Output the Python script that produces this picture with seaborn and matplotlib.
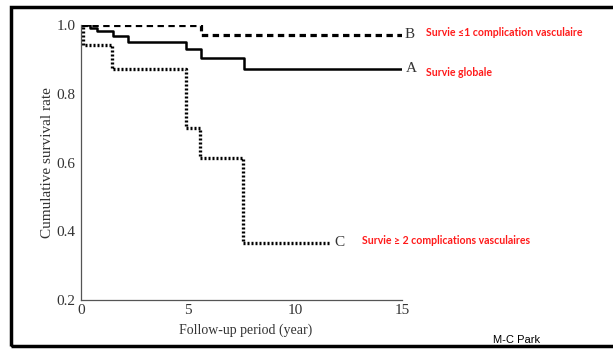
import matplotlib
matplotlib.use("Agg")
import matplotlib.pyplot as plt
import seaborn as sns
import pandas as pd
from matplotlib.patches import Rectangle

# Data (Kaplan-Meier style step curves)
time_A = [0, 0.4, 0.75, 1.5, 2.2, 4.9, 5.6, 7.6, 15]
surv_A = [1.0, 0.99, 0.982, 0.968, 0.952, 0.93, 0.904, 0.872, 0.872]
time_B = [0, 5.6, 15]
surv_B = [1.0, 0.971, 0.971]
time_C = [0, 0.1, 1.45, 4.9, 5.55, 7.55, 11.7]
surv_C = [1.0, 0.943, 0.872, 0.70, 0.614, 0.367, 0.367]

curve_letters = ["A", "B", "C"]
curve_labels = ["Survie globale", "Survie \u22641 complication vasculaire",
                "Survie \u2265 2 complications vasculaires"]
x_ticks = [0, 5, 10, 15]
y_ticks = [0.2, 0.4, 0.6, 0.8, 1.0]

df = pd.concat([
    pd.DataFrame({"t": time_A, "s": surv_A, "g": "A"}),
    pd.DataFrame({"t": time_B, "s": surv_B, "g": "B"}),
    pd.DataFrame({"t": time_C, "s": surv_C, "g": "C"}),
])

sns.set_style("white")
plt.rcParams["font.family"] = ["Liberation Serif", "DejaVu Serif"]

fig = plt.figure(figsize=(6.13, 3.49), dpi=100)
ax = fig.add_axes([81/613, 49/349, 321/613, 275/349])

styles = {"A": dict(ls="-", lw=1.8), "B": dict(ls=(0, (2.0, 1.4)), lw=2.3),
          "C": dict(ls=(0, (0.6, 0.6)), lw=2.4)}
for g in curve_letters:
    sub = df[df.g == g]
    sns.lineplot(x=sub.t.values, y=sub.s.values, drawstyle="steps-post",
                 color="black", ax=ax, **styles[g])

ax.set_xlim(0, 15)
ax.set_ylim(0.2, 1.0)
ax.set_xticks(x_ticks)
ax.set_yticks(y_ticks)
ax.set_xticklabels([str(v) for v in x_ticks])
ax.set_yticklabels([f"{v:.1f}" for v in y_ticks])
for s in ["top", "right"]:
    ax.spines[s].set_visible(False)
for s in ["left", "bottom"]:
    ax.spines[s].set_color("#555555")
    ax.spines[s].set_linewidth(0.9)
ax.tick_params(axis="y", direction="out", length=3, width=0.8, color="#555555",
               labelsize=11, labelcolor="#333333", pad=1)
ax.tick_params(axis="x", direction="in", length=3, width=0.6, color="#999999",
               labelsize=11, labelcolor="#333333", pad=3)
ax.set_xlabel("Follow-up period (year)", fontsize=10, color="#333333", labelpad=9)
ax.set_ylabel("Cumulative survival rate", fontsize=11, color="#333333", labelpad=2)
ax.xaxis.set_label_coords(0.513, -0.085)

# curve end letters
ax.text(15.1, surv_B[-1], "B", fontsize=11, va="center", ha="left", color="#333333")
ax.text(15.2, surv_A[-1], "A", fontsize=11, va="center", ha="left", color="#333333")
ax.text(time_C[-1] + 0.15, surv_C[-1], "C", fontsize=11, va="center", ha="left", color="#333333")

red_kw = dict(fontsize=7.6, color="#ff1a1a", fontweight="bold",
              family=["Lato", "DejaVu Sans"], va="center", ha="left")
fig.text(426/613, 1 - 33/349, curve_labels[1], **red_kw)
fig.text(426/613, 1 - 72/349, curve_labels[0], **red_kw)
fig.text(362/613, 1 - 240/349, curve_labels[2], **red_kw)
fig.text(493/613, 1 - 340/349, "M-C Park", fontsize=8, color="black",
         family=["Liberation Sans", "DejaVu Sans"], va="center", ha="left")

fig.patches.append(Rectangle((11/613, 3/349), 620/613, 339/349, transform=fig.transFigure,
                             fill=False, edgecolor="black", linewidth=2.5))

fig.savefig("out.png", dpi=100)
